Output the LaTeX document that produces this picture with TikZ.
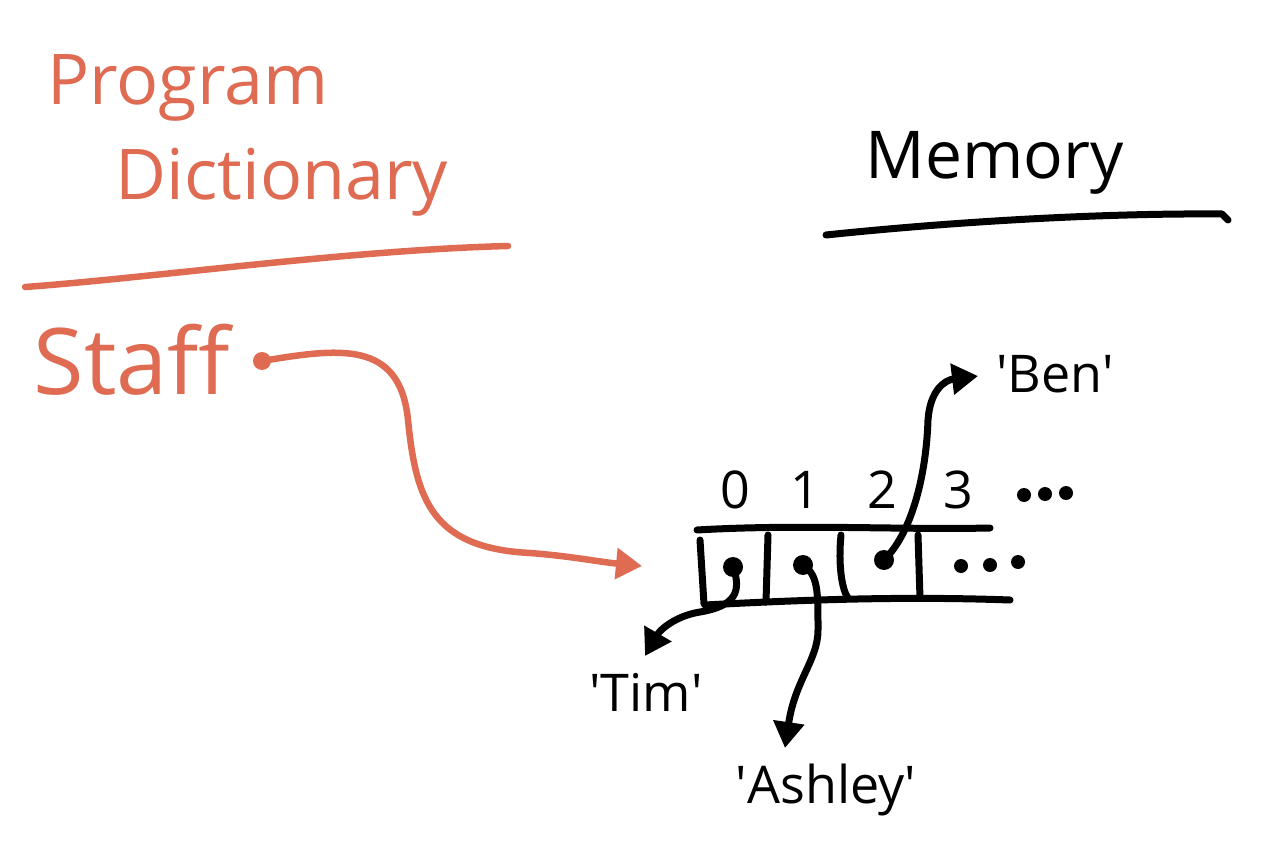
\documentclass[tikz,border=0pt]{standalone}
\usepackage{fontspec}
\setmainfont{Open Sans}
\usetikzlibrary{arrows.meta}
\definecolor{ink}{HTML}{DE6B52}
\begin{document}
\begin{tikzpicture}[x=1pt,y=-1pt,
  oline/.style={draw=ink, line width=6.5pt, line cap=round, line join=round},
  pen/.style={draw=black, line width=7pt, line cap=round, line join=round},
  tip/.style={-{Triangle[length=26pt,width=30pt]}},
  dot/.style={circle, fill, inner sep=0pt, minimum size=20pt},
  sdotst/.style={circle, fill, inner sep=0pt, minimum size=14pt},
  otext/.style={text=ink, inner sep=0pt, font=\fontsize{70}{74}\selectfont},
  btext/.style={text=black, inner sep=0pt, font=\fontsize{66}{70}\selectfont},
  idx/.style={text=black, inner sep=0pt, font=\fontsize{52}{56}\selectfont},
  val/.style={text=black, inner sep=0pt, font=\fontsize{52}{56}\selectfont}]
\useasboundingbox (0,0) rectangle (1264,842);
% titles
\node[otext] (prog) at (188,88) {Program};
\node[otext] (dict) at (282,182) {Dictionary};
\node[btext] (mem) at (995,163) {Memory};
\coordinate (ou1) at (25,287);
\coordinate (ou2) at (508,246);
\draw[oline] (ou1) .. controls (150,278) and (350,250) .. (ou2);
\coordinate (mu1) at (826,235);
\coordinate (mu2) at (1222,214);
\coordinate (mu3) at (1228,220);
\draw[pen] (mu1) .. controls (950,222) and (1100,213) .. (mu2) -- (mu3);
% staff
\node[otext, font=\fontsize{92}{96}\selectfont] (staff) at (132,360) {Staff};
\node[dot, fill=ink, minimum size=18pt] (sdot) at (262,361) {};
\coordinate (stip) at (642,566);
\draw[oline, tip] (sdot.center) .. controls (340,348) and (400,340) .. (408,420)
  .. controls (416,500) and (432,548) .. (530,553)
  .. controls (570,556) and (600,562) .. (stip);
% array
\coordinate (t1) at (697,530); \coordinate (t2) at (990,528);
\coordinate (b1) at (705,605); \coordinate (b2) at (1010,600);
\draw[pen] (t1) .. controls (800,524) and (900,530) .. (t2);
\draw[pen] (b1) .. controls (800,600) and (900,596) .. (b2);
\coordinate (v0a) at (700,540); \coordinate (v0b) at (704,604);
\coordinate (v1a) at (768,535); \coordinate (v1b) at (766,602);
\coordinate (v2a) at (841,535); \coordinate (v2b) at (848,598);
\coordinate (v3a) at (918,535); \coordinate (v3b) at (920,598);
\draw[pen] (v0a) -- (v0b);
\draw[pen] (v1a) -- (v1b);
\draw[pen] (v2a) .. controls (838,565) and (842,590) .. (v2b);
\draw[pen] (v3a) -- (v3b);
% indices
\node[idx] (i0) at (735,490) {0};
\node[idx] (i1) at (805,490) {1};
\node[idx] (i2) at (882,490) {2};
\node[idx] (i3) at (958,490) {3};
\node[sdotst] (id1) at (1024,495) {};
\node[sdotst] (id2) at (1045,494) {};
\node[sdotst] (id3) at (1066,493) {};
\node[sdotst] (rd1) at (961,566) {};
\node[sdotst] (rd2) at (990,565) {};
\node[sdotst] (rd3) at (1018,562) {};
% dots in cells
\node[dot] (d0) at (733,567) {};
\node[dot] (d1) at (803,565) {};
\node[dot] (d2) at (884,560) {};
% values
\node[val] (ben) at (1055,374) {\textquotesingle Ben\textquotesingle};
\node[val] (tim) at (646,692) {\textquotesingle Tim\textquotesingle};
\node[val] (ash) at (826,790) {\textquotesingle Ashley\textquotesingle};
\coordinate (btip) at (978,376);
\coordinate (ttip) at (645,656);
\coordinate (atip) at (785,748);
\draw[pen, tip] (d2.center) .. controls (910,535) and (926,480) .. (928,420)
  .. controls (930,390) and (945,380) .. (btip);
\draw[pen, tip] (d0.center) .. controls (742,592) and (735,606) .. (700,612)
  .. controls (675,616) and (660,630) .. (ttip);
\draw[pen, tip] (d1.center) .. controls (818,575) and (818,590) .. (818,630)
  .. controls (818,660) and (795,680) .. (atip);
\end{tikzpicture}
\end{document}
